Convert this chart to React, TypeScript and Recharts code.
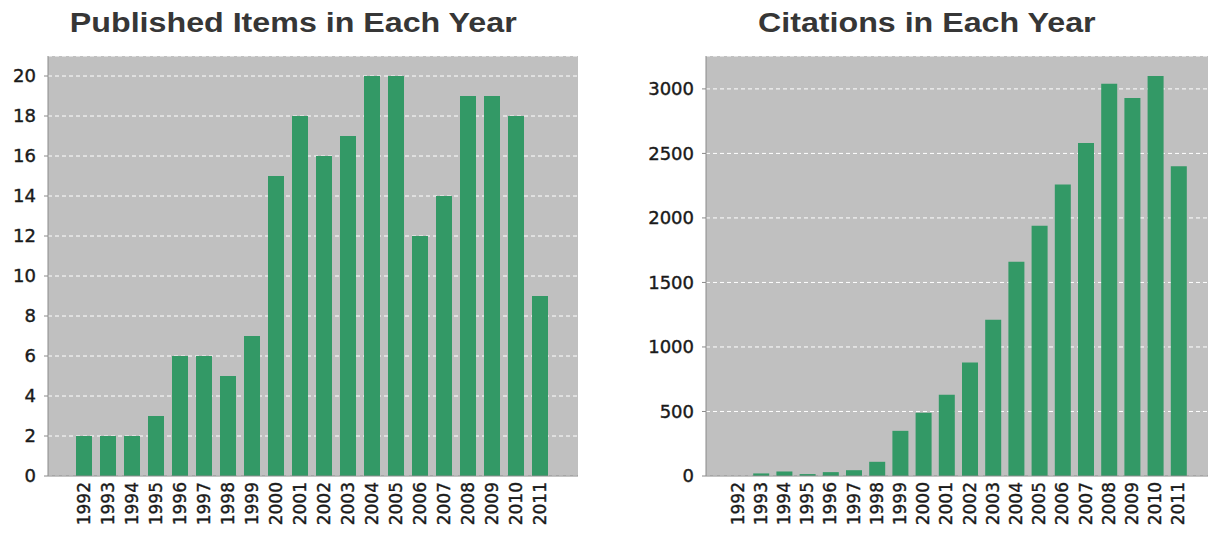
import { BarChart, Bar, XAxis, YAxis, CartesianGrid } from 'recharts';

const years = ['1992', '1993', '1994', '1995', '1996', '1997', '1998', '1999', '2000', '2001',
    '2002', '2003', '2004', '2005', '2006', '2007', '2008', '2009', '2010', '2011'];
const publishedItems = [2, 2, 2, 3, 6, 6, 5, 7, 15, 18, 16, 17, 20, 20, 12, 14, 19, 19, 18, 9];
const citations = [0, 20, 35, 15, 30, 45, 110, 350, 490, 630, 880, 1210, 1660, 1940, 2260, 2580, 3040, 2930, 3100, 2400];
const publishedTicks = [0, 2, 4, 6, 8, 10, 12, 14, 16, 18, 20];
const citationTicks = [0, 500, 1000, 1500, 2000, 2500, 3000];

const BAR_COLOR = '#339966';
const PLOT_BG = '#c0c0c0';
const TICK_FONT = '"DejaVu Sans", sans-serif';

const publishedData = years.map((year, i) => ({ year, value: publishedItems[i] }));
const citationData = years.map((year, i) => ({ year, value: citations[i] }));

// rotated year labels, reading bottom to top
const YearTick = ({ x, y, payload }: any) => (
    <text
        x={x}
        y={y}
        transform={`rotate(-90 ${x} ${y})`}
        textAnchor="end"
        dominantBaseline="central"
        fontFamily={TICK_FONT}
        fontSize={17}
        fill="#1a1a1a"
        stroke="#1a1a1a"
        strokeWidth={0.4}
    >
        {payload.value}
    </text>
);

const Title = ({ text, center }: { text: string; center: number }) => (
    <div
        style={{
            position: 'absolute',
            left: center - 300,
            width: 600,
            top: 9,
            textAlign: 'center',
            fontFamily: '"Liberation Sans", Arial, sans-serif',
            fontWeight: 'bold',
            fontSize: 28,
            lineHeight: '28px',
            color: '#363636',
        }}
    >
        <span style={{ display: 'inline-block', transform: 'scaleX(1.15)' }}>{text}</span>
    </div>
);

const YearChart = ({ data, ticks, max, width, margin, yWidth, padding }: any) => (
    <BarChart width={width} height={536} data={data} margin={margin} barSize={16}>
        <CartesianGrid
            vertical={false}
            fill={PLOT_BG}
            fillOpacity={1}
            stroke="#ffffff"
            strokeDasharray="4 3"
        />
        <XAxis
            dataKey="year"
            interval={0}
            padding={padding}
            tick={<YearTick />}
            tickLine={false}
            tickSize={0}
            tickMargin={6}
            height={60}
            axisLine={{ stroke: '#8a8a8a' }}
        />
        <XAxis xAxisId="top" dataKey="year" orientation="top" height={0} tick={false} tickLine={false} axisLine={{ stroke: '#999999' }} />
        <YAxis
            domain={[0, max]}
            ticks={ticks}
            interval={0}
            width={yWidth}
            tickSize={4}
            tickMargin={8}
            tickLine={{ stroke: '#8a8a8a' }}
            axisLine={{ stroke: '#8a8a8a' }}
            tick={{ fill: '#1a1a1a', stroke: '#1a1a1a', strokeWidth: 0.4, fontSize: 18, fontFamily: TICK_FONT }}
        />
        <YAxis yAxisId="right" orientation="right" width={0} domain={[0, max]} tick={false} tickLine={false} axisLine={{ stroke: '#b0b0b0' }} />
        <Bar dataKey="value" fill={BAR_COLOR} isAnimationActive={false} />
    </BarChart>
);

export default function App() {
    return (
        <div style={{ position: 'relative', width: 1212, height: 536, background: '#ffffff', overflow: 'hidden' }}>
            <style>{'body { margin: 0; }'}</style>
            <Title text="Published Items in Each Year" center={293} />
            <Title text="Citations in Each Year" center={927} />
            <div style={{ position: 'absolute', left: 0, top: 0 }}>
                <YearChart
                    data={publishedData}
                    ticks={publishedTicks}
                    max={21}
                    width={600}
                    margin={{ top: 56, right: 22, bottom: 0, left: 8 }}
                    yWidth={40}
                    padding={{ left: 24, right: 26 }}
                />
            </div>
            <div style={{ position: 'absolute', left: 606, top: 0 }}>
                <YearChart
                    data={citationData}
                    ticks={citationTicks}
                    max={3255}
                    width={606}
                    margin={{ top: 56, right: 4, bottom: 0, left: 10 }}
                    yWidth={90}
                    padding={{ left: 20, right: 18 }}
                />
            </div>
        </div>
    );
}
